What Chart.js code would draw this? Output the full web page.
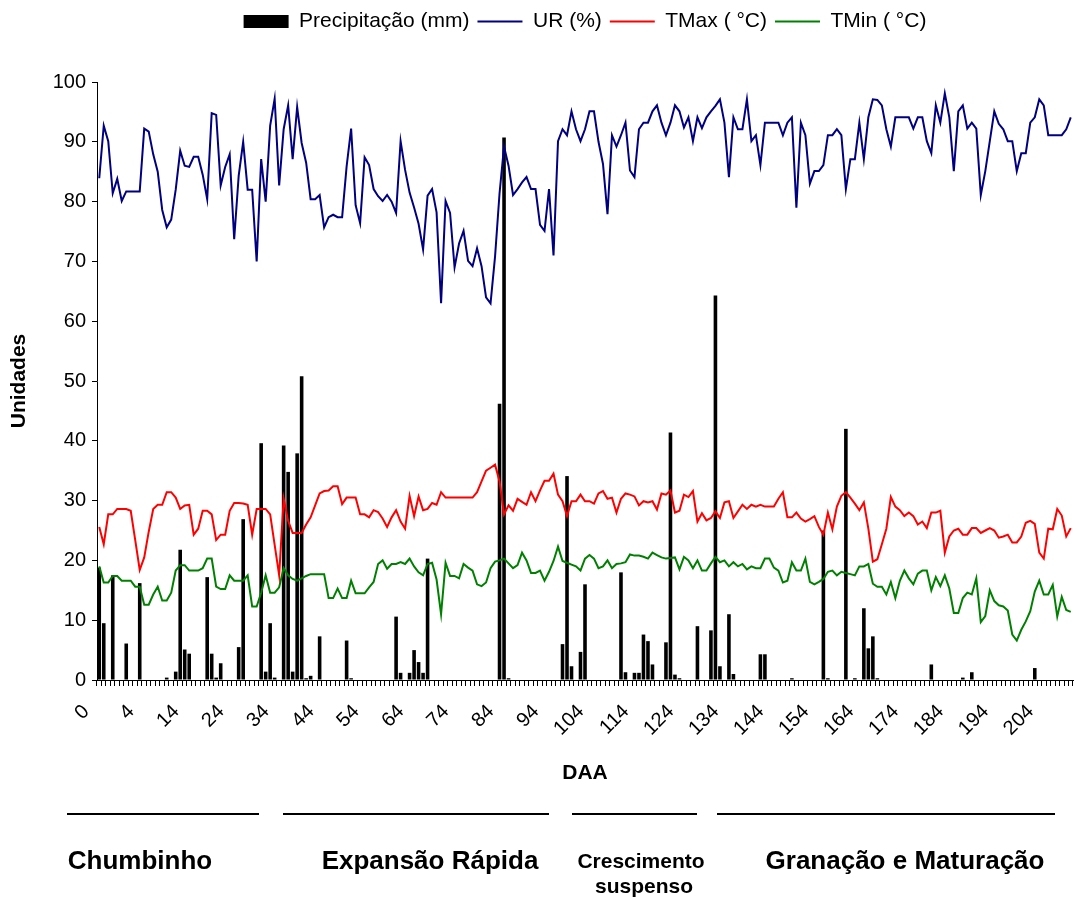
<!DOCTYPE html>
<html>
<head>
<meta charset="utf-8">
<script src="https://cdn.jsdelivr.net/npm/chart.js@4.4.0/dist/chart.umd.min.js"></script>
<style>
  body { margin: 0; background: #fff; }
  #wrap { position: relative; width: 1078px; height: 897px; font-family: "Liberation Sans", Arial, sans-serif; }
  .fase { position: absolute; height: 2px; background: #000; top: 813px; }
  .rot { position: absolute; font-weight: bold; color: #000; text-align: center; white-space: nowrap; }
</style>
</head>
<body>
<div id="wrap">
  <canvas id="grafico" width="1078" height="897"></canvas>
  <div class="fase" style="left:67px;width:192px"></div>
  <div class="fase" style="left:283px;width:266px"></div>
  <div class="fase" style="left:572px;width:125px"></div>
  <div class="fase" style="left:717px;width:338px"></div>
  <div class="rot" style="left:40px;width:200px;top:847px;font-size:26px;line-height:26px">Chumbinho</div>
  <div class="rot" style="left:310px;width:240px;top:847px;font-size:26px;line-height:26px">Expansão Rápida</div>
  <div class="rot" style="left:561px;width:160px;top:850px;font-size:21px;line-height:21px">Crescimento</div>
  <div class="rot" style="left:564px;width:160px;top:875px;font-size:21px;line-height:21px">suspenso</div>
  <div class="rot" style="left:755px;width:300px;top:847px;font-size:26px;line-height:26px">Granação e Maturação</div>
</div>
<script>
// rótulos do eixo x (um a cada 10 dias)
var tickLabels = ['0', '4', '14', '24', '34', '44', '54', '64', '74', '84', '94',
  '104', '114', '124', '134', '144', '154', '164', '174', '184', '194', '204'];

var precipitacao = [
  18.8, 9.5, 0, 17.5, 0, 0, 6.1, 0, 0, 16.2,
  0, 0, 0, 0, 0, 0.4, 0, 1.4, 21.8, 5.1,
  4.4, 0, 0, 0, 17.2, 4.4, 0.4, 2.8, 0, 0,
  0, 5.5, 26.9, 0, 0, 0, 39.6, 1.4, 9.5, 0.4,
  0, 39.2, 34.8, 1.4, 37.9, 50.8, 0.3, 0.7, 0, 7.3,
  0, 0, 0, 0, 0, 6.6, 0.3, 0, 0, 0,
  0, 0, 0, 0, 0, 0, 10.6, 1.2, 0, 1.2,
  5, 3, 1.2, 20.3, 0, 0, 0, 0, 0, 0,
  0, 0, 0, 0, 0, 0, 0, 0, 0, 46.2,
  90.7, 0.3, 0, 0, 0, 0, 0, 0, 0, 0,
  0, 0, 0, 6, 34.1, 2.3, 0, 4.7, 16, 0,
  0, 0, 0, 0, 0, 0, 18, 1.3, 0, 1.2,
  1.2, 7.6, 6.5, 2.6, 0, 0, 6.3, 41.4, 0.9, 0.3,
  0, 0, 0, 9, 0, 0, 8.3, 64.3, 2.3, 0,
  11, 1, 0, 0, 0, 0, 0, 4.3, 4.3, 0,
  0, 0, 0, 0, 0.3, 0, 0, 0, 0, 0,
  0, 25, 0.3, 0, 0, 0, 42, 0, 0.3, 0,
  12, 5.3, 7.3, 0.3, 0, 0, 0, 0, 0, 0,
  0, 0, 0, 0, 0, 2.6, 0, 0, 0, 0,
  0, 0, 0.4, 0, 1.3, 0, 0, 0, 0, 0,
  0, 0, 0, 0, 0, 0, 0, 0, 2, 0,
  0, 0, 0, 0, 0, 0, 0
];

var ur = [
  83.9, 92.7, 90.1, 81.4, 83.8, 80.1, 81.7, 81.7, 81.7, 81.7,
  92.2, 91.7, 87.9, 85, 78.6, 75.7, 77, 82, 88.5, 86,
  85.8, 87.5, 87.5, 84.5, 80.4, 94.8, 94.5, 82.7, 85.8, 87.9,
  73.7, 84.3, 90, 82, 82, 70, 87.1, 80, 92.7, 97.2,
  82.7, 92.1, 96.1, 87.1, 95.8, 89.8, 86.5, 80.4, 80.4, 81.1,
  75.7, 77.4, 77.8, 77.4, 77.4, 85.9, 92.2, 79.4, 76.4, 87.4,
  86.1, 82.1, 80.9, 80.1, 81.1, 80, 78.1, 90.1, 85.3, 81.5,
  79, 76.3, 72, 81, 82.1, 78.2, 63, 80.1, 78.1, 69,
  73, 75.1, 70.1, 69.2, 72.2, 69.2, 64, 63, 70.8, 81.4,
  89.2, 86, 81.1, 82.1, 83.2, 84.1, 82.1, 82.1, 76.1, 75.1,
  82.1, 71, 90.1, 92.1, 91.1, 95.1, 92.1, 90.1, 92.1, 95.1,
  95.1, 90, 86.3, 77.9, 91.1, 89.2, 91.1, 93.2, 85.2, 84.1,
  92.1, 93.2, 93.2, 95.1, 96.1, 93.2, 91.1, 93.2, 96.1, 95.1,
  92.4, 94.1, 90.1, 94.1, 92.3, 94.1, 95.1, 96, 97.1, 93.2,
  84.1, 94.1, 92.1, 92.1, 97.1, 90.1, 91.1, 86.1, 93.2, 93.2,
  93.2, 93.2, 91.1, 93.2, 94.1, 79, 93.2, 91.1, 83, 85.1,
  85.1, 86.1, 91.1, 91.1, 92.1, 91.1, 82.1, 87.1, 87.1, 93.2,
  87.1, 94.1, 97.1, 97, 96.1, 92.1, 89.2, 94.1, 94.1, 94.1,
  94.1, 92.2, 94.1, 94.1, 90.1, 88.1, 96.1, 93.2, 98.1, 94.1,
  85.1, 95.1, 96.1, 92.2, 93.2, 92.2, 81.1, 85.1, 90.1, 95.1,
  93, 92.1, 90.1, 90.1, 85.1, 88.1, 88.1, 93.2, 94.1, 97.1,
  96.1, 91.1, 91.1, 91.1, 91.1, 92.1, 94.1
];

var tmax = [
  25.6, 22.7, 27.7, 27.7, 28.6, 28.6, 28.6, 28.3, 23.4, 18.4,
  20.5, 24.8, 28.6, 29.3, 29.3, 31.4, 31.4, 30.5, 28.6, 29.2,
  29.3, 24.3, 25.3, 28.3, 28.3, 27.7, 23.4, 24.3, 24.3, 28.3,
  29.6, 29.6, 29.5, 29.3, 24.3, 28.6, 28.6, 28.6, 27.7, 22.6,
  17.5, 30.3, 26.6, 24.6, 24.6, 24.6, 26, 27.2, 29.2, 31.2,
  31.6, 31.7, 32.4, 32.4, 29.4, 30.5, 30.5, 30.5, 27.7, 27.7,
  27.2, 28.4, 28.1, 27, 25.6, 27.2, 28.4, 26.5, 25.3, 30.8,
  27.4, 30.7, 28.4, 28.6, 29.6, 29.3, 31.4, 30.5, 30.5, 30.5,
  30.5, 30.5, 30.5, 30.5, 31.4, 33.2, 35, 35.5, 36, 33.2,
  27.7, 29.2, 28.3, 30.3, 29.8, 29.3, 31.4, 29.9, 31.7, 33.3,
  33.3, 34.5, 31, 29.9, 27.4, 29.9, 29.9, 31, 29.9, 29.9,
  29.5, 31.2, 31.6, 30.3, 30.5, 28, 30.3, 31.2, 31, 30.7,
  29.2, 29.9, 29.7, 29.9, 28.5, 31.2, 31, 31.7, 28, 28.3,
  31, 30.6, 31.6, 26.5, 27.9, 26.7, 27.1, 28.2, 27.1, 29.7,
  29.9, 27.1, 28.2, 29.3, 28.6, 29.3, 29, 29.3, 29, 29,
  29, 30.3, 31.4, 27.2, 27.2, 28, 27, 26.5, 26.9, 27.4,
  25.6, 24.3, 28, 25.2, 29, 30.8, 31.4, 30.5, 29.5, 28.4,
  29.7, 25.3, 19.8, 20.2, 22.7, 25.3, 30.6, 29, 28.4, 27.4,
  28, 27.4, 26, 26.5, 25.4, 28, 28, 28.3, 21.3, 24,
  25, 25.3, 24.3, 24.3, 25.4, 25.4, 24.6, 25, 25.4, 25,
  23.8, 24, 24.3, 23, 23, 24, 26.3, 26.6, 26.1, 21.3,
  20.3, 25.3, 25.2, 28.6, 27.5, 24, 25.4
];

var tmin = [
  19, 16.3, 16.3, 17.4, 17.4, 16.6, 16.6, 16.6, 15.6, 15.6,
  12.6, 12.6, 14.3, 15.6, 13.3, 13.3, 14.6, 18.3, 19.2, 19.2,
  18.3, 18.3, 18.3, 18.7, 20.3, 20.3, 15.6, 15.2, 15.2, 17.5,
  16.6, 16.6, 16.6, 17.5, 12.3, 12.3, 14.6, 17.5, 14.6, 14.6,
  15.5, 18.7, 17.5, 16.9, 16.6, 17, 17.4, 17.7, 17.7, 17.7,
  17.7, 13.7, 13.7, 15.3, 13.7, 13.7, 16.6, 14.5, 14.5, 14.5,
  15.5, 16.4, 19.4, 20, 18.6, 19.4, 19.4, 19.7, 19.4, 20.3,
  19, 18, 17.5, 19.4, 19.6, 16.8, 11, 19.6, 17.4, 17.4,
  17, 19.4, 18.8, 18.3, 16, 15.7, 16.3, 18.7, 19.8, 20,
  20.3, 19.5, 18.7, 19.2, 21.3, 20, 17.9, 17.9, 18.3, 16.6,
  18.1, 19.9, 22.3, 19.9, 19.6, 19.3, 19, 18.3, 20.3, 20.9,
  20.3, 18.7, 19, 20, 18.7, 19.4, 19.5, 19.7, 21, 20.8,
  20.8, 20.6, 20.3, 21.3, 20.9, 20.5, 20.3, 20.4, 20.5, 18.5,
  20.6, 20, 18.7, 20, 18.3, 18.3, 19.5, 20.6, 19.7, 20,
  19, 19.7, 19, 19.4, 18.5, 19, 18.7, 18.7, 20.3, 20.3,
  18.8, 18.3, 16.3, 16.6, 19.7, 18.3, 18.3, 20.3, 16.4, 16,
  16.4, 16.9, 18.1, 18.3, 17.5, 18.1, 17.9, 17.7, 17.5, 19,
  19, 19.4, 16.1, 15.6, 15.6, 14.3, 16.4, 13.7, 16.6, 18.3,
  17, 16, 17.8, 18.3, 18.3, 15, 17.2, 15.7, 17.5, 15.3,
  11.2, 11.2, 13.7, 14.6, 14.3, 17, 9.7, 10.7, 15, 13.2,
  12.5, 12.3, 11.6, 7.6, 6.6, 8.4, 9.8, 11.5, 14.8, 16.6,
  14.3, 14.3, 15.9, 10.6, 13.9, 11.7, 11.4
];

var dias = ur.map(function (v, i) { return i; });

// espaço extra entre a legenda e a área do gráfico
var espacoLegenda = {
  id: 'espacoLegenda',
  afterInit: function (chart) {
    var fitOriginal = chart.legend.fit;
    chart.legend.fit = function () {
      fitOriginal.call(this);
      this.height = 79;
    };
  }
};

Chart.defaults.font.family = '"Liberation Sans", Arial, sans-serif';
Chart.defaults.color = '#000';

var ctx = document.getElementById('grafico').getContext('2d');
new Chart(ctx, {
  type: 'bar',
  data: {
    labels: dias,
    datasets: [{
      label: 'Precipitação (mm)',
      data: precipitacao,
      backgroundColor: '#000',
      borderWidth: 0,
      categoryPercentage: 1,
      barPercentage: 0.8,
      pointStyle: 'rect',
      order: 2
    }, {
      type: 'line',
      label: 'UR (%)',
      data: ur,
      borderColor: '#000080',
      backgroundColor: '#000080',
      borderWidth: 2,
      pointRadius: 0,
      pointStyle: 'line',
      tension: 0,
      order: 1
    }, {
      type: 'line',
      label: 'TMax ( °C)',
      data: tmax,
      borderColor: '#ff0000',
      backgroundColor: '#ff0000',
      borderWidth: 2,
      pointRadius: 0,
      pointStyle: 'line',
      tension: 0,
      order: 1
    }, {
      type: 'line',
      label: 'TMin ( °C)',
      data: tmin,
      borderColor: '#008000',
      backgroundColor: '#008000',
      borderWidth: 2,
      pointRadius: 0,
      pointStyle: 'line',
      tension: 0,
      order: 1
    }]
  },
  options: {
    responsive: false,
    animation: false,
    layout: { padding: { top: 3, left: 0, right: 5, bottom: 107 } },
    plugins: {
      tooltip: { enabled: false },
      legend: {
        position: 'top',
        fullSize: false,
        labels: {
          usePointStyle: true,
          pointStyleWidth: 45,
          boxHeight: 13,
          padding: 8,
          font: { size: 21 },
          color: '#000',
          sort: function (a, b) { return a.datasetIndex - b.datasetIndex; }
        }
      }
    },
    scales: {
      x: {
        offset: true,
        grid: { display: true, drawOnChartArea: false, tickLength: 6, color: '#000', offset: true },
        border: { display: true, color: '#000', width: 1 },
        ticks: {
          autoSkip: false,
          minRotation: 45,
          maxRotation: 45,
          padding: 14,
          labelOffset: -13,
          font: { size: 20 },
          color: '#000',
          callback: function (value, index) {
            return index % 10 === 0 ? tickLabels[index / 10] : '';
          }
        },
        title: { display: true, text: 'DAA', font: { size: 21, weight: 'bold' }, color: '#000', padding: { top: 0, bottom: 4 } },
        afterFit: function (scale) {
          scale.height = 110;
          scale.paddingLeft = 0;
          scale.paddingRight = 0;
        }
      },
      y: {
        min: 0,
        max: 100,
        grid: { display: true, drawOnChartArea: false, tickLength: 5, color: '#000' },
        border: { display: true, color: '#000', width: 1 },
        ticks: { stepSize: 10, padding: 6, font: { size: 20 }, color: '#000' },
        title: { display: true, text: 'Unidades', font: { size: 21, weight: 'bold' }, color: '#000', padding: { top: 7, bottom: 0 } },
        afterFit: function (scale) { scale.width = 97; }
      }
    }
  },
  plugins: [espacoLegenda]
});
</script>
</body>
</html>
